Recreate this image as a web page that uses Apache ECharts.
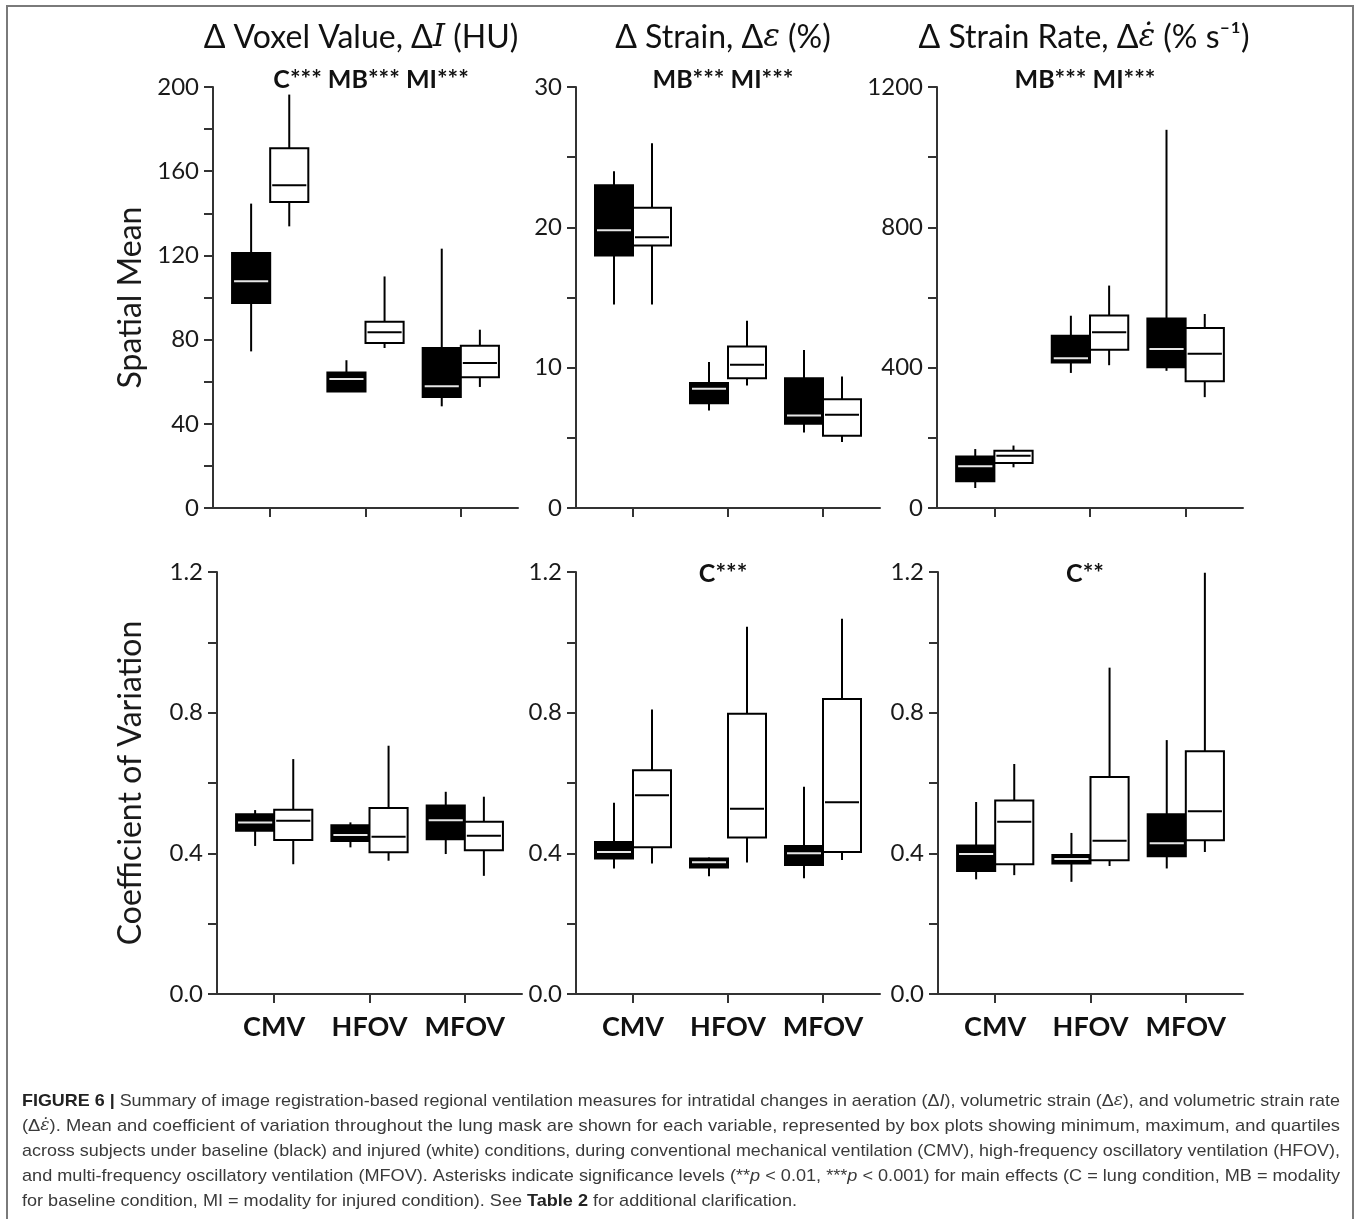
<!DOCTYPE html>
<html>
<head>
<meta charset="utf-8">
<title>Regional ventilation measures</title>
<script src="https://cdn.jsdelivr.net/npm/echarts@6/dist/echarts.min.js"></script>
<style>
  html, body { margin: 0; padding: 0; background: #fff; }
  #chart { width: 1360px; height: 1219px; }
</style>
</head>
<body>
<div id="chart"></div>
<script>
// Ventilation modes on the category axis
const categories = ['CMV', 'HFOV', 'MFOV'];

// Box statistics per mode: [min, Q1, median, Q3, max]
// Spatial mean
const voxelMeanBaseline  = [[74.4, 97.4, 107.7, 121.1, 144.6], [55.3, 55.3, 61.3, 64.4, 70.2], [48.3, 52.7, 57.8, 76.0, 123.2]];
const voxelMeanInjured   = [[133.8, 145.4, 153.3, 170.9, 196.4], [76.0, 78.4, 83.5, 88.5, 110.0], [57.5, 62.1, 68.9, 77.1, 84.7]];
const strainMeanBaseline = [[14.5, 18.0, 19.8, 23.0, 24.0], [6.95, 7.47, 8.5, 8.9, 10.4], [5.38, 6.0, 6.6, 9.25, 11.26]];
const strainMeanInjured  = [[14.5, 18.7, 19.3, 21.4, 26.0], [8.73, 9.25, 10.2, 11.5, 13.35], [4.7, 5.15, 6.64, 7.75, 9.37]];
const rateMeanBaseline   = [[57, 76, 119, 147, 168], [385, 415, 427, 491, 548], [391, 401, 453, 540, 1078]];
const rateMeanInjured    = [[116, 128, 149, 163, 178], [407, 451, 501, 549, 634], [316, 361, 440, 513, 553]];
// Coefficient of variation
const voxelCvBaseline  = [[0.421, 0.464, 0.488, 0.511, 0.523], [0.417, 0.435, 0.452, 0.480, 0.488], [0.398, 0.440, 0.494, 0.536, 0.575]];
const voxelCvInjured   = [[0.369, 0.438, 0.493, 0.524, 0.668], [0.379, 0.403, 0.447, 0.529, 0.706], [0.336, 0.409, 0.450, 0.490, 0.561]];
const strainCvBaseline = [[0.357, 0.385, 0.404, 0.432, 0.544], [0.335, 0.360, 0.375, 0.385, 0.388], [0.329, 0.367, 0.400, 0.421, 0.589]];
const strainCvInjured  = [[0.371, 0.417, 0.565, 0.636, 0.809], [0.374, 0.445, 0.527, 0.797, 1.044], [0.381, 0.404, 0.545, 0.839, 1.067]];
const rateCvBaseline   = [[0.326, 0.350, 0.398, 0.422, 0.546], [0.319, 0.371, 0.384, 0.395, 0.458], [0.357, 0.392, 0.429, 0.511, 0.722]];
const rateCvInjured    = [[0.338, 0.369, 0.490, 0.550, 0.654], [0.364, 0.380, 0.436, 0.617, 0.928], [0.404, 0.437, 0.520, 0.690, 1.198]];

// Labelled y ticks for each panel
const voxelTicks  = [0, 40, 80, 120, 160, 200];
const strainTicks = [0, 10, 20, 30];
const rateTicks   = [0, 400, 800, 1200];
const cvTicks     = [0, 0.4, 0.8, 1.2];

// Column headers and significance notes
const columnTitles = [
  '{t|Δ Voxel Value, Δ}{it|I}{t| (HU)}',
  '{t|Δ Strain, Δ}{it|ε}{t| (%)}',
  '{t|Δ Strain Rate, Δ}{it|ε̇}{t| (% s⁻¹)}'
];
const meanNotes = ['C*** MB*** MI***', 'MB*** MI***', 'MB*** MI***'];
const cvNotes   = ['', 'C***', 'C**'];
const rowNames  = ['Spatial Mean', 'Coefficient of Variation'];

const captionLines = [
  '{b|FIGURE 6 |} Summary of image registration-based regional ventilation measures for intratidal changes in aeration (Δ{i|I}), volumetric strain (Δ{m|ε}), and volumetric strain rate',
  '(Δ{m|ε̇}). Mean and coefficient of variation throughout the lung mask are shown for each variable, represented by box plots showing minimum, maximum, and quartiles',
  'across subjects under baseline (black) and injured (white) conditions, during conventional mechanical ventilation (CMV), high-frequency oscillatory ventilation (HFOV),',
  'and multi-frequency oscillatory ventilation (MFOV). Asterisks indicate significance levels (**{i|p} < 0.01, ***{i|p} < 0.001) for main effects (C = lung condition, MB = modality',
  'for baseline condition, MI = modality for injured condition). See {b|Table 2} for additional clarification.'
];

const FONT = 'Lato, "Open Sans", "Noto Sans", sans-serif';
const SERIF = '"DejaVu Serif", "Liberation Serif", serif';
const CAP_FONT = '"Liberation Sans", Arial, sans-serif';
const AXIS_COLOR = '#333';

const panels = [
  { grid: { left: 213, top: 87, width: 305, height: 421 }, max: 200,  interval: 20,  ticks: voxelTicks,  dec: 0, base: voxelMeanBaseline,  inj: voxelMeanInjured,  bottom: false, name: rowNames[0], nameGap: 66 },
  { grid: { left: 576, top: 87, width: 304, height: 421 }, max: 30,   interval: 5,   ticks: strainTicks, dec: 0, base: strainMeanBaseline, inj: strainMeanInjured, bottom: false },
  { grid: { left: 937, top: 87, width: 306, height: 421 }, max: 1200, interval: 200, ticks: rateTicks,   dec: 0, base: rateMeanBaseline,   inj: rateMeanInjured,   bottom: false },
  { grid: { left: 217, top: 572, width: 305, height: 422 }, max: 1.2, interval: 0.2, ticks: cvTicks,     dec: 1, base: voxelCvBaseline,    inj: voxelCvInjured,    bottom: true, name: rowNames[1], nameGap: 70 },
  { grid: { left: 576, top: 572, width: 304, height: 422 }, max: 1.2, interval: 0.2, ticks: cvTicks,     dec: 1, base: strainCvBaseline,   inj: strainCvInjured,   bottom: true },
  { grid: { left: 938, top: 572, width: 305, height: 422 }, max: 1.2, interval: 0.2, ticks: cvTicks,     dec: 1, base: rateCvBaseline,     inj: rateCvInjured,     bottom: true }
];

// Box half-offset and half-width, in category units
const HALF = 0.2;

function boxRenderer(side, filled) {
  return function (params, api) {
    const c = api.value(0) + side * HALF;
    const half = api.size([HALF, 0])[0];
    const pMin = api.coord([c, api.value(1)]);
    const pQ1  = api.coord([c, api.value(2)]);
    const pMed = api.coord([c, api.value(3)]);
    const pQ3  = api.coord([c, api.value(4)]);
    const pMax = api.coord([c, api.value(5)]);
    return {
      type: 'group',
      children: [
        { type: 'line', shape: { x1: pMin[0], y1: pMin[1], x2: pMax[0], y2: pMax[1] },
          style: { stroke: '#000', lineWidth: 2 } },
        { type: 'rect', shape: { x: pQ3[0] - half, y: pQ3[1], width: half * 2, height: pQ1[1] - pQ3[1] },
          style: { fill: filled ? '#000' : '#fff', stroke: '#000', lineWidth: 2 } },
        { type: 'line', shape: { x1: pMed[0] - half + 2, y1: pMed[1], x2: pMed[0] + half - 2, y2: pMed[1] },
          style: { stroke: filled ? '#e6e6e6' : '#000', lineWidth: 2 } }
      ]
    };
  };
}

function toData(stats) {
  return stats.map((s, i) => [i + 1].concat(s));
}

const grids = [], xAxes = [], yAxes = [], series = [];
panels.forEach((p, i) => {
  grids.push(Object.assign({ containLabel: false }, p.grid));
  xAxes.push({
    gridIndex: i, type: 'value', min: 0.4, max: 3.6,
    axisLine: { show: true, onZero: false, lineStyle: { color: AXIS_COLOR, width: 2 } },
    axisTick: { show: true, customValues: [1, 2, 3], length: 9, lineStyle: { color: AXIS_COLOR, width: 2 } },
    axisLabel: {
      show: p.bottom, customValues: [1, 2, 3], margin: 20,
      formatter: v => categories[Math.round(v) - 1],
      fontFamily: FONT, fontSize: 27, fontWeight: 'bold', color: '#111'
    },
    splitLine: { show: false }
  });
  yAxes.push({
    gridIndex: i, type: 'value', min: 0, max: p.max, interval: p.interval,
    axisLine: { show: true, lineStyle: { color: AXIS_COLOR, width: 2 } },
    axisTick: { show: true, length: 9, lineStyle: { color: AXIS_COLOR, width: 2 } },
    axisLabel: {
      customValues: p.ticks, margin: 14,
      formatter: v => v.toFixed(p.dec),
      fontFamily: FONT, fontSize: 24, color: '#1a1a1a'
    },
    splitLine: { show: false },
    name: p.name || '', nameLocation: 'middle', nameGap: p.nameGap || 0, nameRotate: 90,
    nameTextStyle: { fontFamily: FONT, fontSize: 32, color: '#1a1a1a' }
  });
  series.push({
    type: 'custom', name: 'Baseline', xAxisIndex: i, yAxisIndex: i,
    renderItem: boxRenderer(-1, true), data: toData(p.base),
    encode: { x: 0, y: [1, 2, 3, 4, 5] }, silent: true
  });
  series.push({
    type: 'custom', name: 'Injured', xAxisIndex: i, yAxisIndex: i,
    renderItem: boxRenderer(1, false), data: toData(p.inj),
    encode: { x: 0, y: [1, 2, 3, 4, 5] }, silent: true
  });
});

// Header and note text
const graphics = [];
const headerX = [361, 723, 1084];
columnTitles.forEach((t, i) => {
  graphics.push({
    type: 'text', x: headerX[i], y: 38,
    style: {
      text: t, align: 'center', verticalAlign: 'middle',
      rich: {
        t: { fontFamily: FONT, fontSize: 32, fill: '#111' },
        it: { fontFamily: SERIF, fontStyle: 'italic', fontSize: 31, fill: '#111' }
      }
    }
  });
});
const noteX = [371, 723, 1085];
meanNotes.forEach((t, i) => {
  graphics.push({ type: 'text', x: noteX[i], y: 80,
    style: { text: t, align: 'center', verticalAlign: 'middle', fontFamily: FONT, fontSize: 25, fontWeight: 'bold', fill: '#111' } });
});
cvNotes.forEach((t, i) => {
  if (!t) return;
  graphics.push({ type: 'text', x: noteX[i], y: 574,
    style: { text: t, align: 'center', verticalAlign: 'middle', fontFamily: FONT, fontSize: 25, fontWeight: 'bold', fill: '#111' } });
});

// Caption: measure each line so the full lines run to the right margin
const CAP_SIZE = 17;
const capRich = {
  b: { fontFamily: CAP_FONT, fontSize: CAP_SIZE, fontWeight: 'bold', fill: '#222' },
  i: { fontFamily: CAP_FONT, fontSize: CAP_SIZE, fontStyle: 'italic', fill: '#3a3a3a' },
  m: { fontFamily: SERIF, fontSize: CAP_SIZE - 1, fontStyle: 'italic', fill: '#3a3a3a' }
};
const measureCtx = document.createElement('canvas').getContext('2d');
function lineWidth(line) {
  let w = 0;
  const re = /\{(\w+)\|([^}]*)\}|([^{]+)/g;
  let m;
  while ((m = re.exec(line))) {
    let font = CAP_SIZE + 'px ' + CAP_FONT;
    let txt = m[3];
    if (m[1]) {
      txt = m[2];
      if (m[1] === 'b') font = 'bold ' + font;
      if (m[1] === 'i') font = 'italic ' + font;
      if (m[1] === 'm') font = 'italic ' + (CAP_SIZE - 1) + 'px ' + SERIF;
    }
    measureCtx.font = font;
    w += measureCtx.measureText(txt).width;
  }
  return w;
}
const CAP_LEFT = 22, CAP_RIGHT = 1340;
const scales = captionLines.map((l, i) => (CAP_RIGHT - CAP_LEFT) / lineWidth(l));
const avgScale = (scales[0] + scales[1] + scales[2] + scales[3]) / 4;
captionLines.forEach((l, i) => {
  graphics.push({
    type: 'text', x: CAP_LEFT, y: 1101 + i * 25,
    scaleX: i < 4 ? scales[i] : avgScale,
    style: {
      text: l, align: 'left', verticalAlign: 'middle',
      fontFamily: CAP_FONT, fontSize: CAP_SIZE, fill: '#3a3a3a', rich: capRich
    }
  });
});

// Figure frame
graphics.push({
  type: 'rect', shape: { x: 7, y: 6, width: 1346, height: 1230 },
  style: { fill: 'none', stroke: '#7a7a7a', lineWidth: 2 }, silent: true
});

const chart = echarts.init(document.getElementById('chart'), null, { renderer: 'canvas' });
chart.setOption({
  backgroundColor: '#fff',
  animation: false,
  grid: grids,
  xAxis: xAxes,
  yAxis: yAxes,
  series: series,
  graphic: { elements: graphics }
});
</script>
</body>
</html>
